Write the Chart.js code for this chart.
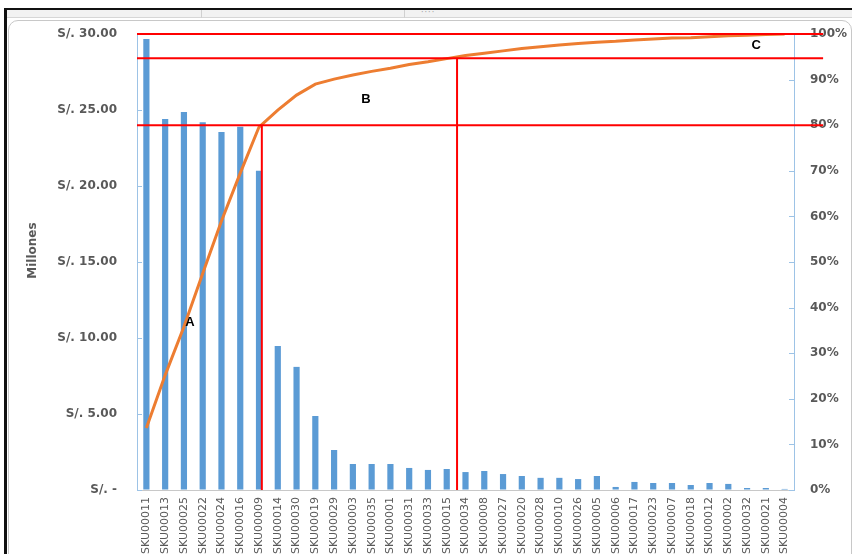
<html><head><meta charset="utf-8">
<script src="https://cdn.jsdelivr.net/npm/chart.js@4.4.1/dist/chart.umd.min.js"></script>
<style>
 body { margin:0; background:#fff; width:852px; height:554px; overflow:hidden; position:relative; }
 .blk-top { position:absolute; left:4px; top:8px; width:848px; height:2px; background:#111; }
 .blk-left { position:absolute; left:4px; top:8px; width:3px; height:546px; background:#111; }
 .strip { position:absolute; left:7px; top:10px; width:845px; height:7px; background:#f2f2f2; border-bottom:1px solid #d6d6d6; }
 .div1 { position:absolute; left:201px; top:10px; width:1px; height:8px; background:#d0d0d0; }
 .div2 { position:absolute; left:404px; top:10px; width:1px; height:8px; background:#d0d0d0; }
 .grip { position:absolute; left:421px; top:8px; font:8px "DejaVu Sans"; color:#a0a0a0; letter-spacing:1px; }
 .box { position:absolute; left:8px; top:20px; width:842px; height:545px; border:1px solid #c8c8c8; border-radius:10px; background:#fff; }
 canvas { position:absolute; left:0; top:0; }
</style>
</head>
<body>
<div class="blk-top"></div><div class="blk-left"></div>
<div class="strip"></div><div class="div1"></div><div class="div2"></div>
<div class="grip">····</div>
<div class="box"></div>
<canvas id="myChart" width="852" height="554"></canvas>
<script>
// productos ordenados por ventas (Pareto)
var categorias = ['SKU00011','SKU00013','SKU00025','SKU00022','SKU00024','SKU00016','SKU00009',
  'SKU00014','SKU00030','SKU00019','SKU00029','SKU00003','SKU00035','SKU00001','SKU00031',
  'SKU00033','SKU00015','SKU00034','SKU00008','SKU00027','SKU00020','SKU00028','SKU00010',
  'SKU00026','SKU00005','SKU00006','SKU00017','SKU00023','SKU00007','SKU00018','SKU00012',
  'SKU00002','SKU00032','SKU00021','SKU00004'];
// ventas en millones de soles
var ventas = [29.67, 24.4, 24.87, 24.2, 23.55, 23.9, 21.0, 9.47, 8.1, 4.87, 2.63, 1.71, 1.71,
  1.71, 1.45, 1.32, 1.38, 1.18, 1.25, 1.05, 0.92, 0.8, 0.8, 0.72, 0.92, 0.2, 0.53, 0.46, 0.46,
  0.33, 0.46, 0.4, 0.13, 0.13, 0.07];
// % acumulado
var acumulado = [13.6, 25.2, 35.8, 47.5, 59.0, 69.5, 79.6, 83.3, 86.6, 89.0, 90.1, 91.0, 91.8,
  92.5, 93.3, 93.9, 94.6, 95.3, 95.8, 96.3, 96.8, 97.2, 97.6, 97.9, 98.2, 98.4, 98.7, 98.9,
  99.1, 99.2, 99.4, 99.6, 99.7, 99.9, 100];
var ticksSoles = ['S/. -', 'S/. 5.00', 'S/. 10.00', 'S/. 15.00', 'S/. 20.00', 'S/. 25.00', 'S/. 30.00'];
var ticksPct = ['0%','10%','20%','30%','40%','50%','60%','70%','80%','90%','100%'];

// cortes ABC (indice de categoria, %)
var cortesH = [100, 94.7, 80];
var cortesV = [[6.15, 80], [16.55, 94.7]];
var letras = [['A', 2.32, 36.8], ['B', 11.7, 85.7], ['C', 32.48, 97.4]];

var gris = '#595959';
var azulEje = '#9DC3E6';

var extras = {
  id: 'extras',
  afterDatasetsDraw: function(chart) {
    var c = chart.ctx, x = chart.scales.x, y = chart.scales.y, y1 = chart.scales.y1;
    var a = chart.chartArea;
    c.save();
    // marcas de los ejes hacia adentro
    c.strokeStyle = azulEje; c.lineWidth = 1;
    y.ticks.forEach(function(t) {
      var py = Math.round(y.getPixelForValue(t.value)) + 0.5;
      c.beginPath(); c.moveTo(a.left, py); c.lineTo(a.left + 5, py); c.stroke();
    });
    y1.ticks.forEach(function(t) {
      var py = Math.round(y1.getPixelForValue(t.value)) + 0.5;
      c.beginPath(); c.moveTo(a.right - 5, py); c.lineTo(a.right, py); c.stroke();
    });
    // lineas rojas
    c.strokeStyle = '#ff0000'; c.lineWidth = 2;
    var xEnd = x.getPixelForValue(36.05);
    cortesH.forEach(function(p) {
      var py = y1.getPixelForValue(p);
      c.beginPath(); c.moveTo(a.left, py); c.lineTo(xEnd, py); c.stroke();
    });
    cortesV.forEach(function(v) {
      var px = x.getPixelForValue(v[0]);
      c.beginPath(); c.moveTo(px, y1.getPixelForValue(v[1])); c.lineTo(px, y1.getPixelForValue(0)); c.stroke();
    });
    // letras
    c.fillStyle = '#000'; c.font = 'bold 13px "Liberation Sans"';
    c.textAlign = 'center'; c.textBaseline = 'middle';
    letras.forEach(function(l) {
      c.fillText(l[0], x.getPixelForValue(l[1]), y1.getPixelForValue(l[2]));
    });
    // titulo del eje
    c.fillStyle = gris; c.font = 'bold 12px "DejaVu Sans"';
    c.translate(33, a.top + (a.bottom - a.top) * 0.475);
    c.rotate(-Math.PI / 2);
    c.fillText('Millones', 0, 0);
    c.restore();
  }
};

Chart.defaults.font.family = '"DejaVu Sans"';
var ctx = document.getElementById('myChart');
var myChart = new Chart(ctx, {
  type: 'bar',
  data: {
    labels: categorias,
    datasets: [{
      type: 'line',
      data: acumulado,
      yAxisID: 'y1',
      borderColor: '#ED7D31',
      borderWidth: 3,
      pointRadius: 0,
      tension: 0,
      order: 0
    }, {
      data: ventas,
      yAxisID: 'y',
      backgroundColor: '#5B9BD5',
      barPercentage: 0.33,
      categoryPercentage: 1,
      order: 1
    }]
  },
  options: {
    responsive: false,
    animation: false,
    devicePixelRatio: 1,
    layout: { padding: { left: 22, top: 34, right: 0, bottom: 0 } },
    plugins: { legend: { display: false }, tooltip: { enabled: false } },
    scales: {
      x: {
        offset: true,
        grid: { display: false, drawTicks: false },
        border: { display: true, color: '#c8c8c8' },
        ticks: { autoSkip: false, maxRotation: 90, minRotation: 90, padding: 7,
                 color: gris, font: { size: 11 } },
        afterFit: function(s) { s.height = 64; }
      },
      y: {
        position: 'left', min: 0, max: 30,
        grid: { drawOnChartArea: false, drawTicks: false },
        border: { color: azulEje },
        ticks: { stepSize: 5, padding: 20, color: gris, font: { size: 12, weight: 'bold' },
                 callback: function(v) { return ticksSoles[v / 5]; } },
        afterFit: function(s) { s.width = 115; }
      },
      y1: {
        position: 'right', min: 0, max: 100,
        grid: { drawOnChartArea: false, drawTicks: false },
        border: { color: azulEje },
        ticks: { stepSize: 10, padding: 16, color: gris, font: { size: 12, weight: 'bold' },
                 callback: function(v) { return ticksPct[v / 10]; } },
        afterFit: function(s) { s.width = 58; }
      }
    }
  },
  plugins: [extras]
});
</script>
</body></html>
